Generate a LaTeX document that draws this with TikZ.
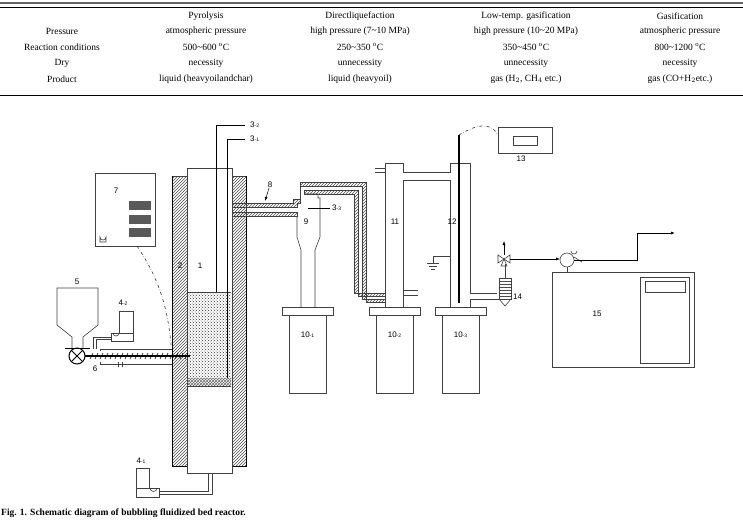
\documentclass[tikz,border=0pt]{standalone}
\usepackage{fontspec}
\setmainfont{Liberation Serif}
\newfontfamily\lab{Liberation Sans}
\usetikzlibrary{patterns,arrows.meta}
\begin{document}
\begin{tikzpicture}[x=1pt,y=-1pt,
 t/.style={font=\fontsize{9.5}{10}\selectfont,inner sep=0},
 l/.style={font=\lab\fontsize{8}{9}\selectfont,inner sep=0},
 hat/.style={pattern=north east lines,pattern color=black!70},
 g/.style={draw=black!75,line width=0.6pt},
 dd/.style={draw=black!80,dash dot,line width=0.6pt}]
\useasboundingbox (0,0) rectangle (743,525);
\fill[white] (0,0) rectangle (743,525);
% table
\draw[line width=1.5pt,black!60] (0,3) -- (743,3);
\draw[line width=0.5pt] (0,7.5) -- (743,7.5);
\draw[line width=0.5pt] (0,95) -- (743,95);
\foreach \y/\a/\b/\c/\d/\e [count=\i] in {
 16/{}/Pyrolysis/Directliquefaction/Low-temp. gasification/Gasification,
 31/Pressure/atmospheric pressure/high pressure (7\char`~10 MPa)/high pressure (10\char`~20 MPa)/atmospheric pressure,
 47/Reaction conditions/500\char`~600 $^{\mathrm o}$C/250\char`~350 $^{\mathrm o}$C/350\char`~450 $^{\mathrm o}$C/800\char`~1200 $^{\mathrm o}$C,
 63/Dry/necessity/unnecessity/unnecessity/necessity,
 79/Product/liquid (heavyoilandchar)/liquid (heavyoil)/{gas (H$_2$, CH$_4$ etc.)}/gas (CO+H$_2$etc.)}{
 \node[t] (ta\i) at (62,\y) {\a};
 \node[t] (tb\i) at (206,\y) {\b};
 \node[t] (tc\i) at (360,\y) {\c};
 \node[t] (td\i) at (526,\y) {\d};
 \node[t] (te\i) at (680,\y) {\e};}
% reactor
\draw[g,hat] (172,176) rectangle (187,466);
\draw[g,hat] (232,176) rectangle (246,466);
\draw[line width=1pt] (172,176) -- (172,466) -- (187,466);
\draw[line width=1pt] (246,176) -- (246,203); \draw[line width=1pt] (246,216) -- (246,466) -- (232,466);
\draw[g] (187,168) rectangle (232,473);
\fill[pattern=crosshatch dots,pattern color=black!80] (187,292) rectangle (231,378);
\fill[pattern=crosshatch,pattern color=black!60] (187,378) rectangle (231,386);
\draw[g] (187,292) -- (231,292) (187,386) -- (231,386);
% thermocouples
\draw[line width=0.9pt] (216,292) -- (216,125) -- (245,125);
\draw[line width=0.9pt] (227,378) -- (227,139) -- (245,139);
\node[l,anchor=west] (l32) at (250,125) {3{\tiny-2}};
\node[l,anchor=west] (l31) at (250,139) {3{\tiny-1}};
\node[l] (l2) at (180,266) {2};
\node[l] (l1) at (200,266) {1};
% pipe 8 to cyclone
\draw[g,hat] (232,203) -- (293,203) -- (293,199) -- (300,199) -- (300,203) -- (297,203) -- (297,207) -- (232,207) -- cycle;
\draw[g,hat] (232,212) -- (297,212) -- (297,216) -- (232,216) -- cycle;
\node[l] (l8) at (270,185) {8};
\draw[-{Latex[length=4pt]},line width=0.5pt] (l8) -- (265,201);
% pipe cyclone -> 11 (double hatched walls)
\draw[g,hat] (300,182) -- (366,182) -- (366,302) -- (385,302) -- (385,299) -- (362,299) -- (362,186) -- (300,186) -- cycle;
\draw[g,hat] (304,190) -- (358,190) -- (358,296) -- (385,296) -- (385,293) -- (354,293) -- (354,194) -- (304,194) -- cycle;
% cyclone 9
\draw[g] (300,182) -- (300,199);
\draw[g] (297,216) -- (297,237) -- (301,250) -- (301,307);
\draw[g] (304,194) -- (318,194) -- (318,198) -- (320,198) -- (320,237) -- (315,250) -- (315,307);
\draw[g] (304,190) -- (304,194);
\draw[line width=0.8pt] (308,208) -- (330,208);
\node[l,anchor=west] (l33) at (332,208) {3{\tiny-3}};
\node[l] (l9) at (306,222) {9};
% jars
\foreach \x/\n [count=\i] in {282/1,369/2,435/3}{
 \draw[g] (\x,307) rectangle ++(51,8);
 \draw[g] (\x+7,315) rectangle ++(37,78);
 \node[l] (j\i) at (\x+25.5,335) {10{\tiny-\n}};}
% condenser 11 and 12
\draw[g] (385,307) -- (385,163) -- (403,163) -- (403,172) -- (450,172) -- (450,163) -- (470,163) -- (470,293) -- (497,293);
\draw[g] (403,307) -- (403,180) -- (450,180) -- (450,307);
\draw[g] (470,307) -- (470,299) -- (499,299);
\draw[g] (375,168) -- (385,168) (375,172) -- (385,172);
\draw[g] (403,290) -- (418,290) (403,295) -- (418,295);
\node[l] (l11) at (395,222) {11};
\node[l] (l12) at (452,222) {12};
\draw[line width=1.3pt] (459,303) -- (459,135);
\draw[dd] (459,135) .. controls (480,122) and (492,124) .. (498,135);
\draw[g] (498,127) rectangle (552,153);
\draw[g] (513,136) rectangle (537,145);
\node[l] (l13) at (521,159) {13};
% ground
\draw[g] (450,256) -- (433,256) -- (433,263);
\draw[g] (427,263) -- (439,263) (429,266) -- (437,266) (431,269) -- (435,269);
% filter 14
\draw[g] (499,278) rectangle (511,299);
\foreach \yy in {281,284,...,297} \draw[black!70,line width=0.4pt] (499,\yy) -- (511,\yy);
\draw[g] (499,299) -- (505,306) -- (511,299);
\draw[g] (505,278) -- (505,264);
\node[l,anchor=west] (l14) at (513,297) {14};
% valve
\draw[g] (498,255) -- (498,263) -- (510,255) -- (510,263) -- cycle;
\draw[g] (501,266) -- (507,266) -- (504,259) -- cycle;
\draw[-{Latex[length=4pt]},line width=0.5pt] (504,255) -- (504,241);
\draw[-{Latex[length=4pt]},line width=0.5pt] (510,259) -- (560,259);
% pump
\draw[g] (567,260) circle (7);
\draw[g] (574,257) -- (582,262);
\draw[g] (571,251) arc (180:0:3) ;
\draw[line width=0.8pt,-{Latex[length=4pt]}] (574,260) -- (637,260) -- (637,233) -- (675,233);
\draw[g] (567,267) -- (567,272);
% 15
\draw[g] (552,272) rectangle (694,367);
\draw[g,line width=0.9pt] (640,277) rectangle (689,363);
\draw[g] (645,281) rectangle (685,292);
\node[l] (l15) at (597,314) {15};
% box 7
\draw[g] (95,173) rectangle (155,246);
\node[l] (l7) at (116,191) {7};
\foreach \yy in {201,215,228} \fill[black!65] (129,\yy) rectangle (151,\yy+9);
\draw[g] (100,242) -- (100,237) arc (180:0:3) -- (106,242) -- cycle;
\draw[dd] (137,246) .. controls (160,280) and (168,310) .. (171,345);
% hopper 5
\draw[g] (57,325) -- (57,288) -- (98,288) -- (98,325) -- (83,337) -- (83,348) (72,348) -- (72,337) -- (57,325);
\draw[line width=0.8pt] (65,348) -- (90,348);
\draw[line width=1pt] (77,356) circle (8);
\draw[line width=0.8pt] (71.3,350.3) -- (82.7,361.7) (71.3,361.7) -- (82.7,350.3);
\node[l] (l5) at (77,282) {5};
\node[l] (l6) at (95,369) {6};
\draw[line width=1.3pt] (85,356) -- (190,356);
\foreach \xx in {90,95,...,187} \draw[line width=0.6pt] (\xx,359) -- (\xx+3,353);
\draw[g] (100,351) -- (100,349) -- (172,349) (100,362) -- (100,364) -- (172,364);
\draw[g] (118,362) -- (118,367) (122,362) -- (122,367);
% motor 4-2
\draw[g] (111,333) rectangle (133,341);
\draw[g] (119,333) rectangle (133,311);
\draw[g] (113,333) arc (180:0:3);
\draw[g] (111,337) -- (93,337) -- (93,349) (111,339) -- (96,339) -- (96,349);
\node[l] (l42) at (123,303) {4{\tiny-2}};
% motor 4-1
\node[l] (l41) at (141,461) {4{\tiny-1}};
\draw[g] (136,468) rectangle (149,488);
\draw[g] (136,488) rectangle (159,497);
\draw[g] (150,488) arc (180:0:3.5);
\draw[g] (159,494) -- (212,494) -- (212,473) (159,491) -- (208,491) -- (208,473);
% caption
\node[anchor=west,inner sep=0,font=\bfseries\fontsize{9.5}{10}\selectfont] (cap) at (1,513) {Fig. 1. Schematic diagram of bubbling fluidized bed reactor.};
\end{tikzpicture}
\end{document}
